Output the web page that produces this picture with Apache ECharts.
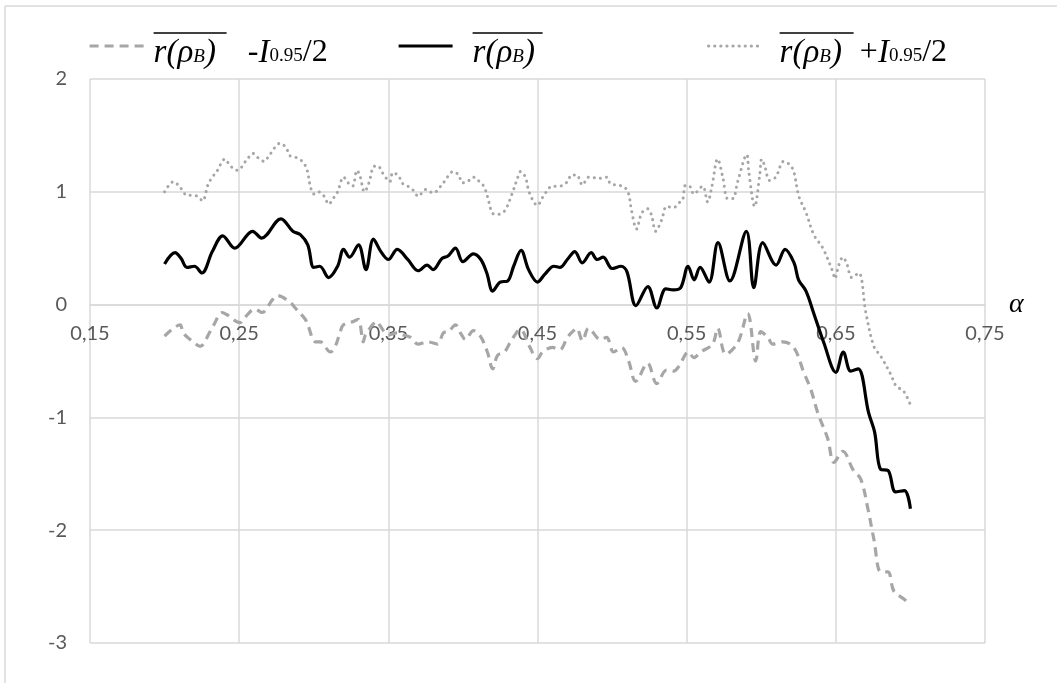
<!DOCTYPE html>
<html>
<head>
<meta charset="utf-8">
<script src="https://cdn.jsdelivr.net/npm/echarts@6/dist/echarts.min.js"></script>
<style>
html,body{margin:0;padding:0;background:#fff;}
#chart{width:1057px;height:683px;}
</style>
</head>
<body>
<div id="chart"></div>
<script>
// ---- data ----
const xTicks = [0.15, 0.25, 0.35, 0.45, 0.55, 0.65, 0.75];
const yTicks = [-3, -2, -1, 0, 1, 2];

const meanX = [0.200,0.207,0.211,0.215,0.220,0.225,0.232,0.239,0.247,0.259,0.265,0.278,0.286,0.291,0.296,0.300,0.304,0.310,0.316,0.320,0.324,0.330,0.335,0.340,0.345,0.350,0.356,0.363,0.370,0.376,0.380,0.386,0.390,0.395,0.400,0.407,0.412,0.416,0.420,0.425,0.430,0.434,0.439,0.444,0.450,0.455,0.461,0.465,0.470,0.475,0.480,0.486,0.490,0.494,0.500,0.506,0.510,0.516,0.524,0.530,0.536,0.541,0.546,0.551,0.555,0.559,0.565,0.571,0.579,0.590,0.595,0.601,0.610,0.616,0.622,0.625,0.630,0.635,0.642,0.650,0.655,0.660,0.665,0.672,0.676,0.680,0.685,0.690,0.696,0.700];
const meanY = [0.36,0.46,0.41,0.33,0.34,0.28,0.47,0.61,0.50,0.65,0.59,0.76,0.65,0.62,0.53,0.33,0.34,0.24,0.34,0.49,0.42,0.53,0.31,0.58,0.47,0.40,0.49,0.40,0.30,0.35,0.31,0.41,0.43,0.50,0.38,0.45,0.40,0.28,0.12,0.20,0.21,0.34,0.48,0.31,0.20,0.27,0.34,0.33,0.40,0.47,0.37,0.46,0.40,0.42,0.32,0.34,0.29,-0.01,0.16,-0.03,0.14,0.13,0.15,0.34,0.22,0.33,0.20,0.55,0.21,0.65,0.15,0.55,0.35,0.49,0.37,0.22,0.12,-0.07,-0.34,-0.60,-0.42,-0.59,-0.57,-0.96,-1.13,-1.46,-1.47,-1.66,-1.65,-1.81];

const upX = [0.200,0.206,0.211,0.215,0.219,0.222,0.2255,0.229,0.232,0.235,0.2405,0.244,0.2487,0.2554,0.2594,0.2628,0.2668,0.270,0.2775,0.2815,0.284,0.289,0.293,0.2956,0.2977,0.300,0.303,0.307,0.310,0.313,0.316,0.320,0.323,0.326,0.329,0.331,0.334,0.337,0.340,0.343,0.346,0.351,0.353,0.357,0.359,0.363,0.367,0.370,0.375,0.380,0.3869,0.3936,0.3970,0.3997,0.4030,0.4070,0.4111,0.4144,0.4178,0.4198,0.4232,0.4279,0.4326,0.4366,0.4386,0.4419,0.4446,0.4500,0.4534,0.4601,0.4648,0.4701,0.4728,0.4762,0.4802,0.4842,0.4923,0.4963,0.4990,0.5037,0.5084,0.5111,0.5131,0.5164,0.5198,0.5238,0.5265,0.5292,0.5332,0.5366,0.5413,0.5446,0.5473,0.5493,0.5527,0.5547,0.5607,0.5641,0.5668,0.5708,0.5742,0.5775,0.5809,0.5842,0.5903,0.5916,0.5956,0.5990,0.6003,0.6023,0.6057,0.6097,0.6151,0.6191,0.6218,0.6252,0.6299,0.6352,0.6413,0.6480,0.6493,0.6520,0.6547,0.6574,0.6607,0.6654,0.6701,0.6755,0.6802,0.6869,0.6903,0.6956,0.7000];
const upY = [1.00,1.09,1.03,0.97,0.97,0.96,0.92,1.06,1.13,1.18,1.29,1.23,1.19,1.29,1.34,1.30,1.27,1.32,1.43,1.39,1.32,1.30,1.26,1.19,1.05,0.98,1.00,0.96,0.89,0.94,1.00,1.13,1.08,1.05,1.19,1.14,1.00,1.08,1.22,1.23,1.17,1.09,1.17,1.14,1.08,1.05,1.01,0.96,1.02,0.99,1.08,1.18,1.15,1.08,1.09,1.13,1.09,1.04,0.89,0.81,0.80,0.83,0.97,1.12,1.18,1.13,0.99,0.88,0.95,1.05,1.05,1.09,1.15,1.15,1.06,1.13,1.12,1.13,1.07,1.06,1.04,0.98,0.83,0.67,0.81,0.85,0.79,0.65,0.75,0.87,0.86,0.90,0.93,1.06,1.04,0.98,1.05,0.91,1.04,1.29,1.13,0.94,0.94,1.09,1.33,1.18,0.87,1.15,1.29,1.23,1.10,1.13,1.27,1.24,1.18,0.96,0.82,0.62,0.50,0.29,0.23,0.35,0.42,0.36,0.24,0.28,-0.07,-0.37,-0.46,-0.62,-0.72,-0.77,-0.89];

const loX = [0.200,0.2104,0.2124,0.2191,0.2238,0.2305,0.2326,0.2386,0.2419,0.2507,0.2527,0.2607,0.2654,0.2721,0.2755,0.2842,0.2876,0.2943,0.2963,0.3010,0.3044,0.3111,0.3144,0.3178,0.3198,0.3265,0.3299,0.3332,0.3346,0.3426,0.3446,0.350,0.356,0.3601,0.3648,0.370,0.3762,0.383,0.3869,0.3903,0.395,0.3983,0.4017,0.407,0.4117,0.4164,0.420,0.4232,0.4279,0.4319,0.4386,0.4446,0.4500,0.4534,0.4601,0.4648,0.4701,0.4735,0.4762,0.4802,0.4842,0.4923,0.4963,0.5010,0.5064,0.5111,0.5158,0.5238,0.5299,0.5366,0.5413,0.5446,0.5513,0.5547,0.5594,0.5674,0.5708,0.5762,0.5842,0.5909,0.5963,0.5997,0.6044,0.6077,0.6144,0.6218,0.6285,0.6332,0.6379,0.6446,0.6487,0.6547,0.6614,0.6668,0.6715,0.6755,0.6802,0.6849,0.6889,0.6956,0.7000];
const loY = [-0.28,-0.18,-0.25,-0.33,-0.37,-0.24,-0.19,-0.07,-0.09,-0.16,-0.13,-0.04,-0.07,0.04,0.08,0.02,-0.03,-0.13,-0.19,-0.33,-0.33,-0.42,-0.37,-0.24,-0.18,-0.15,-0.13,-0.33,-0.27,-0.15,-0.19,-0.27,-0.25,-0.27,-0.29,-0.35,-0.33,-0.35,-0.25,-0.24,-0.18,-0.25,-0.31,-0.23,-0.28,-0.42,-0.57,-0.45,-0.42,-0.33,-0.22,-0.37,-0.48,-0.42,-0.38,-0.40,-0.29,-0.24,-0.21,-0.32,-0.21,-0.31,-0.29,-0.42,-0.38,-0.50,-0.68,-0.52,-0.70,-0.58,-0.59,-0.55,-0.42,-0.47,-0.42,-0.35,-0.21,-0.44,-0.34,-0.08,-0.50,-0.24,-0.29,-0.35,-0.33,-0.38,-0.60,-0.75,-0.96,-1.19,-1.40,-1.30,-1.46,-1.55,-1.81,-2.08,-2.37,-2.37,-2.54,-2.61,-2.66];

const seriesNames = ['r(ρB) - I0.95/2', 'r(ρB)', 'r(ρB) + I0.95/2'];
const axisName = 'α';

// ---- chart ----
const pairs = (xs, ys) => xs.map((x, i) => [x, ys[i]]);
const gray = '#a6a6a6';
const serif = '"Liberation Serif", "DejaVu Serif", serif';

const GRID = {left: 90, right: 72, top: 79, bottom: 40};
const plotH = 683 - GRID.top - GRID.bottom;
const yMin = yTicks[0], yMax = yTicks[yTicks.length - 1];
const zeroOffset = -plotH * (0 - yMin) / (yMax - yMin);

const rich = {
  ol1: {width: 73, height: 1.5, lineHeight: 14, backgroundColor: '#000'},
  ol2: {width: 70, height: 1.5, lineHeight: 14, backgroundColor: '#000'},
  ol3: {width: 74, height: 1.5, lineHeight: 14, backgroundColor: '#000'},
  r: {fontFamily: serif, fontStyle: 'italic', fontSize: 33, lineHeight: 26, color: '#000'},
  n: {fontFamily: serif, fontSize: 32, lineHeight: 26, color: '#000'},
  sb: {fontFamily: serif, fontStyle: 'italic', fontSize: 19, lineHeight: 10, verticalAlign: 'bottom', color: '#000'},
  sn: {fontFamily: serif, fontSize: 19, lineHeight: 10, verticalAlign: 'bottom', color: '#000'},
  g1: {width: 32, lineHeight: 26},
  g3: {width: 18, lineHeight: 26}
};
const legendText = {};
legendText[seriesNames[0]] = '{ol1| }\n{r|r(ρ}{sb|B}{r|)}{g1| }{n|-}{r|I}{sn|0.95}{n|/2}';
legendText[seriesNames[1]] = '{ol2| }\n{r|r(ρ}{sb|B}{r|)}';
legendText[seriesNames[2]] = '{ol3| }\n{r|r(ρ}{sb|B}{r|)}{g3| }{n|+}{r|I}{sn|0.95}{n|/2}';

function mkLegend(name, left, pad) {
  return {
    data: [name], left: left, top: 27, padding: 0, orient: 'horizontal',
    itemWidth: 54, itemHeight: 14, selectedMode: false,
    itemStyle: {opacity: 0},
    lineStyle: {width: 3.2},
    formatter: n => legendText[n],
    textStyle: {padding: [0, 0, 0, pad], rich: rich}
  };
}

const chart = echarts.init(document.getElementById('chart'));
chart.setOption({
  animation: false,
  backgroundColor: '#fff',
  grid: Object.assign({containLabel: false}, GRID),
  legend: [
    mkLegend(seriesNames[0], 88, 5),
    mkLegend(seriesNames[1], 397, 15),
    mkLegend(seriesNames[2], 707, 12)
  ],
  xAxis: {
    type: 'value', min: xTicks[0], max: xTicks[xTicks.length - 1], interval: 0.1,
    position: 'bottom', offset: zeroOffset,
    name: axisName, nameLocation: 'end', nameGap: 24,
    nameTextStyle: {fontFamily: serif, fontStyle: 'italic', fontSize: 28, color: '#000', verticalAlign: 'middle', padding: [0, 0, 8, 0]},
    axisLine: {show: true, onZero: false, lineStyle: {color: '#d9d9d9', width: 1.5}},
    axisTick: {show: false},
    splitLine: {show: true, lineStyle: {color: '#d9d9d9', width: 1.5}},
    axisLabel: {
      margin: 19, color: '#595959', fontFamily: 'Lato, "Open Sans", sans-serif', fontSize: 20,
      formatter: v => v.toFixed(2).replace('.', ',')
    }
  },
  yAxis: {
    type: 'value', min: yMin, max: yMax, interval: 1,
    axisLine: {show: false}, axisTick: {show: false},
    splitLine: {show: true, lineStyle: {color: '#d9d9d9', width: 1.5}},
    axisLabel: {margin: 23, color: '#595959', fontFamily: 'Lato, "Open Sans", sans-serif', fontSize: 20}
  },
  series: [
    {name: seriesNames[0], type: 'line', data: pairs(loX, loY), smooth: 0.35, symbol: 'none', z: 2,
     lineStyle: {color: gray, width: 3.2, type: [9, 6], cap: 'butt'}, itemStyle: {color: gray}},
    {name: seriesNames[1], type: 'line', data: pairs(meanX, meanY), smooth: 0.35, symbol: 'none', z: 3,
     lineStyle: {color: '#000', width: 3.2}, itemStyle: {color: '#000'}},
    {name: seriesNames[2], type: 'line', data: pairs(upX, upY), smooth: 0.35, symbol: 'none', z: 2,
     lineStyle: {color: gray, width: 3, type: [0.1, 6], cap: 'round'}, itemStyle: {color: gray}}
  ],
  graphic: [
    {type: 'line', shape: {x1: 5, y1: 6, x2: 5, y2: 690}, style: {stroke: '#d9d9d9', lineWidth: 1.5}, silent: true},
    {type: 'line', shape: {x1: 5, y1: 6, x2: 1060, y2: 6}, style: {stroke: '#d9d9d9', lineWidth: 1.5}, silent: true}
  ]
});
</script>
</body>
</html>
